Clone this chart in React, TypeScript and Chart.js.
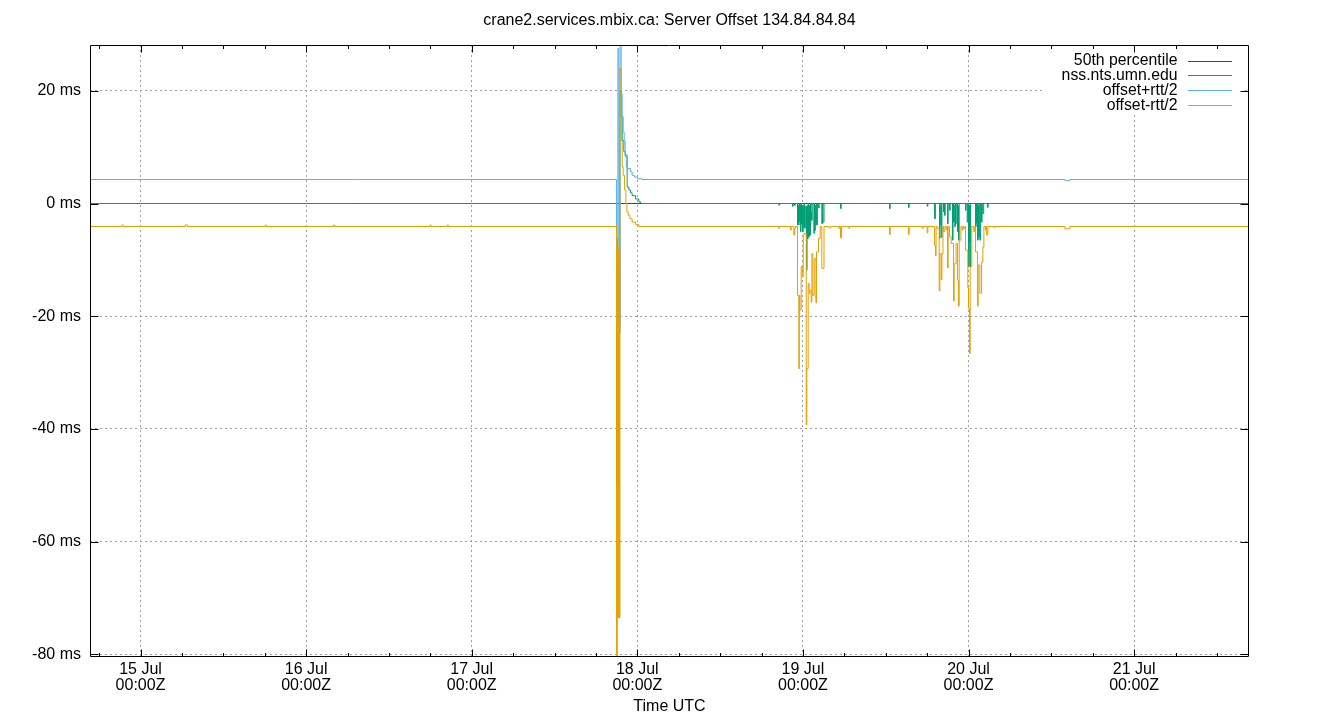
import React, { useEffect, useRef } from 'react';
import { Chart, registerables } from 'chart.js';

Chart.register(...registerables);

const titleText = 'crane2.services.mbix.ca: Server Offset 134.84.84.84';
const xAxisTitle = 'Time UTC';
const seriesNames = ['50th percentile', 'nss.nts.umn.edu', 'offset+rtt/2', 'offset-rtt/2'];
const seriesColors = ['#9400d3', '#009e73', '#56b4e9', '#e69f00'];

// x values are hours since 15 Jul 00:00Z
const xMin = -7.32;
const xMax = 160.65;
const dayTicks = [0, 24, 48, 72, 96, 120, 144];
const dayLabels = ['15 Jul', '16 Jul', '17 Jul', '18 Jul', '19 Jul', '20 Jul', '21 Jul'];
const timeLabel = '00:00Z';
const yMin = -80.3;
const yMax = 28.13;
const yTicks = [-80, -60, -40, -20, 0, 20];

// [hour, ms] — stepped: each value holds until the next pair
const median50: [number, number][] = [
  [-7.32, 0], [160.65, 0],
];

const nssOffset: [number, number][] = [
  [-7.32, 0],
  [68.99, -50], [69.18, -23], [69.47, 20], [69.66, 15.5], [69.81, 11.2], [70.05, 9.2], [70.24, 8.6],
  [70.53, 2.9], [70.78, 2.4], [71.01, 1.9], [71.25, 1.4], [71.74, 0.8], [72.22, 0.3], [72.46, 0],
  [92.51, -0.3], [92.62, 0],
  [94.49, -0.5], [94.6, 0], [94.78, -0.3], [94.9, 0],
  [95.22, -3.8], [95.3, -0.3], [95.35, -3.8], [95.45, 0], [95.5, -3.2], [95.6, -0.2],
  [95.65, -5.0], [95.73, 0], [95.8, -3.6], [95.88, -0.4], [95.94, -5.0], [96.05, -0.3], [96.1, -4.1],
  [96.2, 0], [96.25, -4.4], [96.35, -0.5],
  [96.52, -11.8], [96.6, -0.4], [96.67, -6.2], [96.76, 0], [96.8, -5.9], [96.95, -0.3], [97.0, -5.6],
  [97.1, 0], [97.2, -1.5], [97.25, -3.0], [97.35, 0], [97.59, -5.3], [97.66, 0], [97.7, -4.8],
  [97.8, -0.3], [97.85, -3.8], [97.95, 0], [98.0, -3.8], [98.1, -0.2],
  [98.26, -0.8], [98.35, 0], [98.74, -3.6], [98.85, 0], [98.9, -3.3], [99.06, 0],
  [101.45, -0.9], [101.55, 0],
  [108.55, -0.9], [108.65, 0],
  [111.3, -0.7], [111.4, 0],
  [114.01, -0.5], [114.1, 0],
  [115.07, -2.7], [115.2, 0], [115.8, -6.2], [115.87, -0.5], [115.9, -3.8], [116.0, 0], [116.05, -6.0],
  [116.15, 0], [116.38, -1.5], [116.47, 0], [116.52, -2.1], [116.62, 0], [116.96, -3.6], [117.05, 0],
  [117.25, -1.2], [117.35, 0], [117.68, -6.5], [117.76, 0], [117.83, -3.3], [117.92, -0.3],
  [118.0, -4.1], [118.1, 0], [118.15, -3.5], [118.3, 0], [118.41, -5.0], [118.48, -0.4], [118.55, -6.5],
  [118.65, 0], [119.57, -1.2], [119.65, 0], [119.81, -3.3], [119.9, 0], [120.0, -11.2], [120.07, -0.5],
  [120.1, -6.8], [120.15, -0.3], [120.19, -11.2], [120.3, 0],
  [121.02, -4.1], [121.12, 0], [121.18, -3.5], [121.25, 0], [121.31, -6.5], [121.4, -0.3],
  [121.45, -6.0], [121.55, 0], [121.64, -6.5], [121.75, 0], [121.89, -3.3], [121.97, 0],
  [122.08, -1.8], [122.2, 0], [122.75, -0.7], [122.85, 0],
  [160.65, 0],
];

const offsetPlusHalfRtt: [number, number][] = [
  [-7.32, 4.26],
  [68.99, -21.8], [69.18, 27.5], [69.32, -21.8], [69.5, 29], [69.66, 19.5], [69.81, 15.4], [69.95, 12.7],
  [70.1, 11], [70.24, 8.3], [70.4, 6.5], [70.6, 6.2], [71.01, 5.6], [71.25, 5.0], [71.6, 4.7], [72.0, 4.4],
  [72.61, 4.26],
  [133.97, 4.05], [134.69, 4.26],
  [160.65, 4.26],
];

const offsetMinusHalfRtt: [number, number][] = [
  [-7.32, -4.08],
  [-2.65, -3.8], [-2.5, -4.08], [6.5, -3.8], [6.8, -4.08], [18.1, -3.8], [18.2, -4.08], [28.0, -3.8],
  [28.1, -4.08], [42.0, -3.8], [42.1, -4.08], [44.5, -3.8], [44.6, -4.08],
  [68.99, -82], [69.1, -6], [69.15, -73.5], [69.25, -8], [69.32, -73.5], [69.4, -10], [69.44, -73.5],
  [69.47, 24], [69.66, 11.2], [69.81, 6.5], [69.95, 5], [70.15, 2.4], [70.34, 0], [70.49, -1.5],
  [70.68, -2.1], [70.92, -2.7], [71.25, -3.3], [71.74, -3.7], [72.22, -4.08],
  [92.51, -4.4], [92.62, -4.08],
  [94.2, -4.7], [94.3, -4.08], [94.69, -5.6], [94.8, -4.4], [94.93, -4.08],
  [95.22, -16.3], [95.41, -29.3], [95.48, -16.3], [95.56, -18.9], [95.75, -11.2], [95.9, -13.0],
  [96.05, -5.6], [96.2, -5.3], [96.48, -39.3], [96.56, -29.3], [96.76, -14.2], [96.91, -16.0],
  [97.01, -15.4], [97.2, -17.5], [97.3, -8.9], [97.44, -16.3], [97.64, -9.8], [97.88, -17.6],
  [97.97, -8.6], [98.26, -6.2], [98.5, -4.08], [98.74, -11.5], [99.06, -4.08], [99.76, -4.3],
  [100.01, -4.08], [101.21, -4.4], [101.3, -4.08], [101.45, -6.1], [101.6, -4.08], [102.66, -4.4],
  [102.75, -4.08],
  [108.55, -5.5], [108.65, -4.08], [111.3, -5.5], [111.4, -4.08], [113.29, -4.4], [113.4, -4.08],
  [114.01, -5.2], [114.1, -4.08],
  [115.07, -7.4], [115.22, -9.3], [115.3, -4.08], [115.46, -4.4], [115.75, -15.5], [115.85, -8.9],
  [116.05, -13.5], [116.15, -8.9], [116.3, -4.08], [116.38, -5.0], [116.57, -4.08], [116.77, -4.7],
  [116.9, -4.08], [116.96, -11.4], [117.05, -4.08], [117.25, -5.9], [117.49, -7.1], [117.83, -17.3],
  [117.92, -10.7], [118.2, -7.1], [118.41, -13.6], [118.55, -18.2], [118.65, -6.5], [118.9, -4.08],
  [119.08, -4.7], [119.2, -4.08], [119.32, -4.4], [119.45, -4.08], [119.57, -8.3], [119.9, -14.9],
  [120.0, -18.6], [120.15, -26.6], [120.24, -11.2], [120.48, -4.08], [120.77, -5.0], [120.9, -4.08],
  [121.02, -8.6], [121.31, -18.2], [121.4, -10.9], [121.64, -15.9], [121.89, -10.4], [122.08, -7.7],
  [122.23, -4.08], [122.46, -4.7], [122.55, -4.08], [122.61, -5.6], [122.8, -4.08], [123.67, -4.3],
  [123.8, -4.08],
  [133.97, -4.5], [134.69, -4.08],
  [160.65, -4.08],
];

const allSeries = [median50, nssOffset, offsetPlusHalfRtt, offsetMinusHalfRtt];

const FONT = '"Liberation Sans", Arial, sans-serif';
const FONT_SIZE = 16;
const KEY_FONT_SIZE = 15.8;

const gnuplotDecor = {
  id: 'gnuplotDecor',
  afterDatasetsDraw(chart: any) {
    const { ctx, chartArea: a } = chart;
    ctx.save();
    // legend (key) box, opaque white
    const boxLeft = a.right - 204;
    const boxRight = a.right - 7;
    ctx.fillStyle = '#ffffff';
    ctx.fillRect(boxLeft, a.top + 1, boxRight - boxLeft, 67);
    ctx.font = `${KEY_FONT_SIZE}px ${FONT}`;
    ctx.textAlign = 'right';
    ctx.textBaseline = 'middle';
    for (let i = 0; i < seriesNames.length; i++) {
      const y = a.top + 15.5 + i * 14.8;
      ctx.fillStyle = '#000';
      ctx.fillText(seriesNames[i], a.right - 71.5, y + 0.5);
      ctx.fillStyle = seriesColors[i];
      ctx.fillRect(a.right - 61, Math.round(y), 44, 1);
    }
    ctx.restore();
  },
  afterDraw(chart: any) {
    const { ctx, chartArea: a, scales } = chart;
    const xs = scales.x;
    const ys = scales.y;
    ctx.save();
    ctx.strokeStyle = '#000';
    ctx.lineWidth = 1;
    const L = a.left + 0.5;
    const R = Math.round(a.right) - 0.5;
    const T = a.top + 0.5;
    const B = Math.round(a.bottom) + 0.5;
    ctx.beginPath();
    // frame
    ctx.moveTo(L, T); ctx.lineTo(R, T); ctx.lineTo(R, B); ctx.lineTo(L, B); ctx.closePath();
    // x major ticks
    for (const v of dayTicks) {
      const px = Math.round(xs.getPixelForValue(v)) + 0.5;
      ctx.moveTo(px, B); ctx.lineTo(px, B - 7);
      ctx.moveTo(px, T); ctx.lineTo(px, T + 7);
    }
    // x minor ticks every 6 h
    for (let h = -6; h < xMax; h += 6) {
      if (h % 24 === 0) continue;
      const px = Math.round(xs.getPixelForValue(h)) + 0.5;
      ctx.moveTo(px, B); ctx.lineTo(px, B - 3.5);
      ctx.moveTo(px, T); ctx.lineTo(px, T + 3.5);
    }
    // y ticks
    for (const v of yTicks) {
      const py = Math.round(ys.getPixelForValue(v)) + 0.5;
      ctx.moveTo(L, py); ctx.lineTo(L + 8, py);
      ctx.moveTo(R, py); ctx.lineTo(R - 8, py);
    }
    ctx.stroke();
    // titles
    ctx.fillStyle = '#000';
    ctx.font = `${FONT_SIZE}px ${FONT}`;
    ctx.textAlign = 'center';
    ctx.textBaseline = 'middle';
    const cx = (a.left + a.right) / 2;
    ctx.fillText(titleText, cx, 20.5);
    ctx.fillText(xAxisTitle, cx, 706.5);
    ctx.restore();
  },
};

export default function App() {
  const ref = useRef<HTMLCanvasElement | null>(null);
  useEffect(() => {
    const canvas = ref.current;
    if (!canvas) return;
    const orders = [4, 3, 2, 1];
    const chart = new Chart(canvas, {
      type: 'line',
      data: {
        datasets: allSeries.map((s, i) => ({
          label: seriesNames[i],
          data: s.map(([x, y]) => ({ x, y })),
          borderColor: seriesColors[i],
          backgroundColor: seriesColors[i],
          borderWidth: 1,
          pointRadius: 0,
          stepped: true,
          fill: false,
          tension: 0,
          order: orders[i],
        })),
      },
      options: {
        animation: false,
        responsive: false,
        events: [],
        layout: { padding: { left: 0, top: 45, right: 91, bottom: 0 } },
        plugins: {
          legend: { display: false },
          title: { display: false },
          tooltip: { enabled: false },
        },
        scales: {
          x: {
            type: 'linear',
            min: xMin,
            max: xMax,
            afterBuildTicks: (s: any) => {
              s.ticks = dayTicks.map((v) => ({ value: v }));
            },
            afterFit: (s: any) => {
              s.height = 64;
            },
            grid: { color: '#a0a0a0', lineWidth: 1, drawTicks: false },
            border: { display: false, dash: [2, 3] },
            ticks: {
              autoSkip: false,
              maxRotation: 0,
              minRotation: 0,
              padding: 6,
              color: '#000',
              font: { family: FONT, size: FONT_SIZE, lineHeight: '16px' },
              callback: (_v: any, idx: number) => [dayLabels[idx], timeLabel],
            },
          },
          y: {
            type: 'linear',
            min: yMin,
            max: yMax,
            afterBuildTicks: (s: any) => {
              s.ticks = yTicks.map((v) => ({ value: v }));
            },
            afterFit: (s: any) => {
              s.width = 90;
            },
            grid: { color: '#a0a0a0', lineWidth: 1, drawTicks: false },
            border: { display: false, dash: [2, 3] },
            ticks: {
              padding: 9,
              color: '#000',
              font: { family: FONT, size: FONT_SIZE },
              callback: (v: any) => `${v} ms`,
            },
          },
        },
      },
      plugins: [gnuplotDecor],
    } as any);
    return () => chart.destroy();
  }, []);
  return (
    <canvas
      ref={ref}
      width={1340}
      height={720}
      style={{ position: 'absolute', left: 0, top: 0, width: 1340, height: 720 }}
    />
  );
}
